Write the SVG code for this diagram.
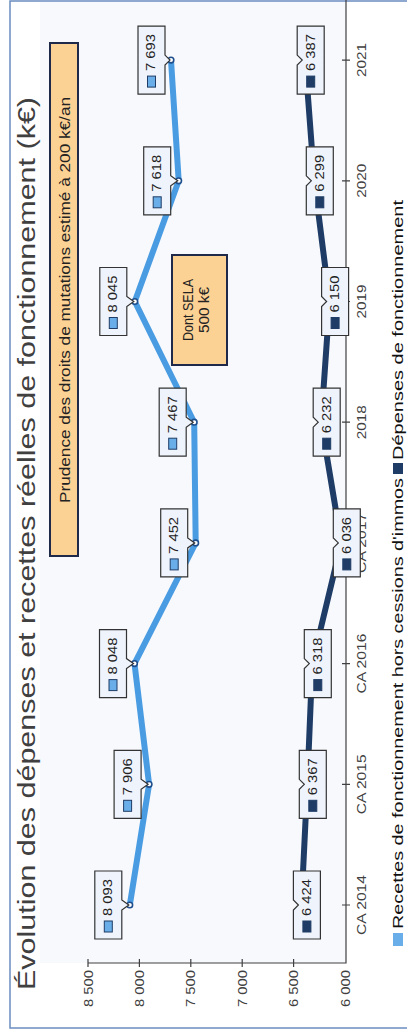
<svg xmlns="http://www.w3.org/2000/svg" width="407" height="1036" viewBox="0 0 407 1036">
<style>
.f{font-family:"Liberation Sans",Arial,sans-serif;}
.ax{stroke:#404040;stroke-width:1.2;fill:none}
.vl{font-size:12px;fill:#404040;text-anchor:end}
.cl{font-size:13px;fill:#404040;text-anchor:middle}
.lb{fill:#eff3fb;stroke:#333;stroke-width:1.2}
.num{font-size:12px;fill:#222}
.kl{fill:#6aaee9;stroke:#1f3c66;stroke-width:1}
.kd{fill:#1e3c66;stroke:#1e3c66;stroke-width:1}
.ann{fill:#fcd194;stroke:#1f2a4a;stroke-width:2}
.mk{fill:#fff;stroke:#1f4e8c;stroke-width:1.6}
</style>
<rect x="0" y="0" width="407" height="1036" fill="#fff"/>
<rect x="40" y="2" width="306" height="961" fill="#f7f9fd"/>
<rect x="10" y="1" width="420" height="1027" fill="none" stroke="#6a8cc0" stroke-width="1.5"/>

<g id="title" class="f">
<text x="35" y="990" transform="rotate(-90 35 990)" font-size="23" fill="#404040" textLength="893" lengthAdjust="spacingAndGlyphs">Évolution des dépenses et recettes réelles de fonctionnement (k€)</text>
</g>

<g id="axes" class="f">
<path class="ax" d="M88,963 H346 V0"/>
<path class="ax" d="M88,959 V967 M139.4,959 V967 M190.8,959 V967 M242.2,959 V967 M293.6,959 V967"/>
<path class="ax" d="M342,905 H350 M342,784.3 H350 M342,663.6 H350 M342,542.9 H350 M342,422.2 H350 M342,301.5 H350 M342,180.8 H350 M342,60.1 H350"/>
<text class="vl" x="92.5" y="970" transform="rotate(-90 92.5 970)" textLength="37" lengthAdjust="spacingAndGlyphs">8 500</text>
<text class="vl" x="143.9" y="970" transform="rotate(-90 143.9 970)" textLength="37" lengthAdjust="spacingAndGlyphs">8 000</text>
<text class="vl" x="195.3" y="970" transform="rotate(-90 195.3 970)" textLength="37" lengthAdjust="spacingAndGlyphs">7 500</text>
<text class="vl" x="246.7" y="970" transform="rotate(-90 246.7 970)" textLength="37" lengthAdjust="spacingAndGlyphs">7 000</text>
<text class="vl" x="298.1" y="970" transform="rotate(-90 298.1 970)" textLength="37" lengthAdjust="spacingAndGlyphs">6 500</text>
<text class="vl" x="349.5" y="970" transform="rotate(-90 349.5 970)" textLength="37" lengthAdjust="spacingAndGlyphs">6 000</text>
<text class="cl" x="366" y="905" transform="rotate(-90 366 905)" textLength="60" lengthAdjust="spacingAndGlyphs">CA 2014</text>
<text class="cl" x="366" y="784.3" transform="rotate(-90 366 784.3)" textLength="60" lengthAdjust="spacingAndGlyphs">CA 2015</text>
<text class="cl" x="366" y="663.6" transform="rotate(-90 366 663.6)" textLength="60" lengthAdjust="spacingAndGlyphs">CA 2016</text>
<text class="cl" x="366" y="542.9" transform="rotate(-90 366 542.9)" textLength="60" lengthAdjust="spacingAndGlyphs">CA 2017</text>
<text class="cl" x="366" y="422.2" transform="rotate(-90 366 422.2)" textLength="34" lengthAdjust="spacingAndGlyphs">2018</text>
<text class="cl" x="366" y="301.5" transform="rotate(-90 366 301.5)" textLength="34" lengthAdjust="spacingAndGlyphs">2019</text>
<text class="cl" x="366" y="180.8" transform="rotate(-90 366 180.8)" textLength="34" lengthAdjust="spacingAndGlyphs">2020</text>
<text class="cl" x="366" y="60.1" transform="rotate(-90 366 60.1)" textLength="34" lengthAdjust="spacingAndGlyphs">2021</text>
</g>

<g id="connectors">
<polyline id="line-recettes" fill="none" stroke="#4a9ce2" stroke-width="6" stroke-linejoin="round" stroke-linecap="round" points="129.8,905 149.1,784.3 134.5,663.6 195.7,542.9 194.2,422.2 134.8,301.5 178.7,180.8 171,60.1"/>
<polyline id="line-depenses" fill="none" stroke="#1e3c66" stroke-width="6" stroke-linejoin="round" stroke-linecap="round" points="301.4,905 307.3,784.3 312.3,663.6 341.3,542.9 321.2,422.2 329.6,301.5 314.3,180.8 305.2,60.1"/>
</g>

<g id="markers">
<circle class="mk" cx="129.8" cy="905" r="2.8"/>
<circle class="mk" cx="149.1" cy="784.3" r="2.8"/>
<circle class="mk" cx="134.5" cy="663.6" r="2.8"/>
<circle class="mk" cx="195.7" cy="542.9" r="2.8"/>
<circle class="mk" cx="194.2" cy="422.2" r="2.8"/>
<circle class="mk" cx="134.8" cy="301.5" r="2.8"/>
<circle class="mk" cx="178.7" cy="180.8" r="2.8"/>
<circle class="mk" cx="171" cy="60.1" r="2.8"/>
</g>

<g id="labels-recettes" class="f">
<g id="r2014"><path class="lb" d="M94.8,871 H121.8 V900 L128.8,905 L121.8,910 V939 H94.8 Z"/><rect class="kl" x="104.3" y="921" width="8" height="11"/><text class="num" x="112.3" y="916" transform="rotate(-90 112.3 916)" textLength="37" lengthAdjust="spacingAndGlyphs">8 093</text></g>
<g id="r2015"><path class="lb" d="M114.1,750.3 H141.1 V779.3 L148.1,784.3 L141.1,789.3 V818.3 H114.1 Z"/><rect class="kl" x="123.6" y="800.3" width="8" height="11"/><text class="num" x="131.6" y="795.3" transform="rotate(-90 131.6 795.3)" textLength="37" lengthAdjust="spacingAndGlyphs">7 906</text></g>
<g id="r2016"><path class="lb" d="M99.5,629.6 H126.5 V658.6 L133.5,663.6 L126.5,668.6 V697.6 H99.5 Z"/><rect class="kl" x="109" y="679.6" width="8" height="11"/><text class="num" x="117" y="674.6" transform="rotate(-90 117 674.6)" textLength="37" lengthAdjust="spacingAndGlyphs">8 048</text></g>
<g id="r2017"><path class="lb" d="M160.7,508.9 H187.7 V537.9 L194.7,542.9 L187.7,547.9 V576.9 H160.7 Z"/><rect class="kl" x="170.2" y="558.9" width="8" height="11"/><text class="num" x="178.2" y="553.9" transform="rotate(-90 178.2 553.9)" textLength="37" lengthAdjust="spacingAndGlyphs">7 452</text></g>
<g id="r2018"><path class="lb" d="M159.2,388.2 H186.2 V417.2 L193.2,422.2 L186.2,427.2 V456.2 H159.2 Z"/><rect class="kl" x="168.7" y="438.2" width="8" height="11"/><text class="num" x="176.7" y="433.2" transform="rotate(-90 176.7 433.2)" textLength="37" lengthAdjust="spacingAndGlyphs">7 467</text></g>
<g id="r2019"><path class="lb" d="M99.8,267.5 H126.8 V296.5 L133.8,301.5 L126.8,306.5 V335.5 H99.8 Z"/><rect class="kl" x="109.3" y="317.5" width="8" height="11"/><text class="num" x="117.3" y="312.5" transform="rotate(-90 117.3 312.5)" textLength="37" lengthAdjust="spacingAndGlyphs">8 045</text></g>
<g id="r2020"><path class="lb" d="M143.7,146.8 H170.7 V175.8 L177.7,180.8 L170.7,185.8 V214.8 H143.7 Z"/><rect class="kl" x="153.2" y="196.8" width="8" height="11"/><text class="num" x="161.2" y="191.8" transform="rotate(-90 161.2 191.8)" textLength="37" lengthAdjust="spacingAndGlyphs">7 618</text></g>
<g id="r2021"><path class="lb" d="M138,26.1 H165 V55.1 L170,60.1 L165,65.1 V94.1 H138 Z"/><rect class="kl" x="147.5" y="76.1" width="8" height="11"/><text class="num" x="155.5" y="71.1" transform="rotate(-90 155.5 71.1)" textLength="37" lengthAdjust="spacingAndGlyphs">7 693</text></g>
</g>

<g id="labels-depenses" class="f">
<g id="d2014"><path class="lb" d="M293.4,871 H320.4 V939 H293.4 V910 L298.4,905 L293.4,900 Z"/><rect class="kd" x="302.9" y="921" width="8" height="11"/><text class="num" x="310.9" y="916" transform="rotate(-90 310.9 916)" textLength="37" lengthAdjust="spacingAndGlyphs">6 424</text></g>
<g id="d2015"><path class="lb" d="M299.3,750.3 H326.3 V818.3 H299.3 V789.3 L304.3,784.3 L299.3,779.3 Z"/><rect class="kd" x="308.8" y="800.3" width="8" height="11"/><text class="num" x="316.8" y="795.3" transform="rotate(-90 316.8 795.3)" textLength="37" lengthAdjust="spacingAndGlyphs">6 367</text></g>
<g id="d2016"><path class="lb" d="M304.3,629.6 H331.3 V697.6 H304.3 V668.6 L309.3,663.6 L304.3,658.6 Z"/><rect class="kd" x="313.8" y="679.6" width="8" height="11"/><text class="num" x="321.8" y="674.6" transform="rotate(-90 321.8 674.6)" textLength="37" lengthAdjust="spacingAndGlyphs">6 318</text></g>
<g id="d2017"><path class="lb" d="M333.3,508.9 H360.3 V576.9 H333.3 V547.9 L338.3,542.9 L333.3,537.9 Z"/><rect class="kd" x="342.8" y="558.9" width="8" height="11"/><text class="num" x="350.8" y="553.9" transform="rotate(-90 350.8 553.9)" textLength="37" lengthAdjust="spacingAndGlyphs">6 036</text></g>
<g id="d2018"><path class="lb" d="M313.2,388.2 H340.2 V456.2 H313.2 V427.2 L318.2,422.2 L313.2,417.2 Z"/><rect class="kd" x="322.7" y="438.2" width="8" height="11"/><text class="num" x="330.7" y="433.2" transform="rotate(-90 330.7 433.2)" textLength="37" lengthAdjust="spacingAndGlyphs">6 232</text></g>
<g id="d2019"><path class="lb" d="M321.6,267.5 H348.6 V335.5 H321.6 V306.5 L326.6,301.5 L321.6,296.5 Z"/><rect class="kd" x="331.1" y="317.5" width="8" height="11"/><text class="num" x="339.1" y="312.5" transform="rotate(-90 339.1 312.5)" textLength="37" lengthAdjust="spacingAndGlyphs">6 150</text></g>
<g id="d2020"><path class="lb" d="M306.3,146.8 H333.3 V214.8 H306.3 V185.8 L311.3,180.8 L306.3,175.8 Z"/><rect class="kd" x="315.8" y="196.8" width="8" height="11"/><text class="num" x="323.8" y="191.8" transform="rotate(-90 323.8 191.8)" textLength="37" lengthAdjust="spacingAndGlyphs">6 299</text></g>
<g id="d2021"><path class="lb" d="M297.2,26.1 H324.2 V94.1 H297.2 V65.1 L302.2,60.1 L297.2,55.1 Z"/><rect class="kd" x="306.7" y="76.1" width="8" height="11"/><text class="num" x="314.7" y="71.1" transform="rotate(-90 314.7 71.1)" textLength="37" lengthAdjust="spacingAndGlyphs">6 387</text></g>
</g>

<g id="note-prudence" class="f">
<rect class="ann" x="50" y="43" width="28" height="513"/>
<text x="69.5" y="300" transform="rotate(-90 69.5 300)" font-size="15" fill="#222" text-anchor="middle" textLength="406" lengthAdjust="spacingAndGlyphs">Prudence des droits de mutations estimé à 200 k€/an</text>
</g>

<g id="note-sela" class="f">
<rect class="ann" x="172" y="255" width="55" height="110"/>
<text x="193" y="310" transform="rotate(-90 193 310)" font-size="14" fill="#222" text-anchor="middle" textLength="62" lengthAdjust="spacingAndGlyphs">Dont SELA</text>
<text x="209" y="310" transform="rotate(-90 209 310)" font-size="14" fill="#222" text-anchor="middle" textLength="46" lengthAdjust="spacingAndGlyphs">500 k€</text>
</g>

<g id="legend" class="f">
<rect x="393" y="933" width="10" height="13" fill="#6aaee9"/>
<text x="403" y="929" transform="rotate(-90 403 929)" font-size="15" fill="#111" textLength="451" lengthAdjust="spacingAndGlyphs">Recettes de fonctionnement hors cessions d'immos</text>
<rect x="393" y="463" width="10" height="11" fill="#1e3c66"/>
<text x="403" y="460" transform="rotate(-90 403 460)" font-size="15" fill="#111" textLength="260" lengthAdjust="spacingAndGlyphs">Dépenses de fonctionnement</text>
</g>
</svg>
